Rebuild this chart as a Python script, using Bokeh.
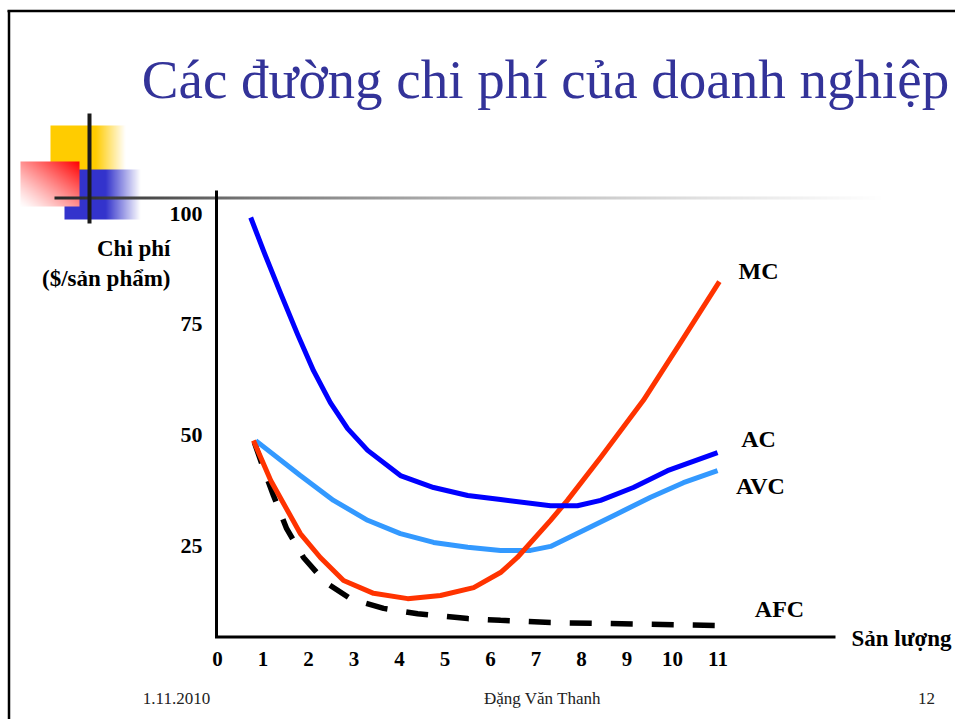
import numpy as np
from bokeh.plotting import figure
from bokeh.models import Range1d
from bokeh.core.properties import value
from bokeh.embed import file_html
from bokeh.resources import INLINE

# ---------------- data ----------------
ac_x = [0.73, 1.01, 1.39, 1.76, 2.11, 2.48, 2.86, 3.30, 4.02, 4.75, 5.50, 6.22, 7.32, 7.91, 8.42, 9.14, 9.89, 10.99]
ac_y = [99.1, 91.6, 81.9, 72.7, 64.5, 57.3, 51.4, 46.5, 40.8, 38.1, 36.3, 35.4, 34.0, 34.0, 35.2, 38.1, 41.9, 46.0]

avc_x = [0.84, 1.82, 2.55, 3.30, 4.02, 4.75, 5.50, 6.22, 6.88, 7.32, 8.04, 8.79, 9.52, 10.24, 10.99]
avc_y = [48.7, 40.8, 35.2, 30.7, 27.7, 25.7, 24.6, 23.9, 23.9, 24.8, 28.4, 32.2, 35.9, 39.2, 41.9]

mc_x = [0.79, 1.17, 1.82, 2.26, 2.77, 3.43, 4.18, 4.90, 5.63, 6.22, 6.59, 7.32, 7.69, 8.42, 9.36, 10.18, 11.03]
mc_y = [48.7, 39.7, 27.7, 22.3, 17.1, 14.2, 13.0, 13.7, 15.5, 18.9, 22.3, 30.7, 35.2, 44.9, 57.8, 70.9, 84.6]

afc_x = [0.81, 1.01, 1.23, 1.52, 1.89, 2.37, 2.92, 3.65, 4.40, 5.50, 6.22, 7.32, 9.52, 11.23]
afc_y = [48.3, 42.4, 36.3, 28.8, 22.3, 16.7, 13.0, 10.8, 9.6, 8.5, 8.1, 7.6, 7.2, 6.9]

x_ticks = list(range(12))
x_tick_labels = [str(t) for t in x_ticks]
y_ticks = [25, 50, 75, 100]
y_tick_labels = ["25", "50", "75", "100"]

title_text = "Các đường chi phí của doanh nghiệp"
y_title_1 = "Chi phí"
y_title_2 = "($/sản phẩm)"
x_title = "Sản lượng"
footer_left = "1.11.2010"
footer_mid = "Đặng Văn Thanh"
footer_right = "12"

# ---------------- layout helpers (page pixel -> data) ----------------
W, H = 955, 719
X0PX, XS = 217.0, 45.5     # page x of value 0, px per unit
Y0PX, YS = 655.7, 4.4267   # page y of value 0, px per unit


def dx(px):
    return (px - X0PX) / XS


def dy(py):
    return (Y0PX - py) / YS


SERIF = value("Liberation Serif")

p = figure(width=W, height=H, x_range=Range1d(dx(0), dx(W)),
           y_range=Range1d(dy(H), dy(0)), output_backend="svg",
           toolbar_location=None, min_border=0, x_axis_type=None,
           y_axis_type=None)
p.grid.visible = False
p.outline_line_color = None
p.background_fill_color = "white"
p.border_fill_color = "white"


def rgba_image(wpx, hpx, fn):
    """fn(fx, fy) -> (r,g,b) arrays, fx left->right 0..1, fy top->bottom 0..1"""
    fx = (np.arange(wpx) + 0.5) / wpx
    fy = (np.arange(hpx) + 0.5) / hpx
    FX, FY = np.meshgrid(fx, fy)
    r, g, b = fn(FX, FY)
    img = np.zeros((hpx, wpx), dtype=np.uint32)
    v = img.view(dtype=np.uint8).reshape((hpx, wpx, 4))
    v[:, :, 0] = np.clip(r, 0, 255)
    v[:, :, 1] = np.clip(g, 0, 255)
    v[:, :, 2] = np.clip(b, 0, 255)
    v[:, :, 3] = 255
    return img[::-1]


def place_image(img_fn, left, top, wpx, hpx):
    img = rgba_image(wpx, hpx, img_fn)
    p.image_rgba(image=[img], x=dx(left), y=dy(top + hpx), dw=wpx / XS, dh=hpx / YS)


def fade(c, solid_frac):
    def fn(FX, FY):
        t = np.clip((FX - solid_frac) / (1 - solid_frac), 0, 1)
        return tuple(ci + (255 - ci) * t for ci in c)
    return fn


# decorative squares
place_image(fade((255, 204, 0), 0.60), 50, 125, 75, 50)
place_image(fade((51, 51, 204), 0.54), 64, 169, 76, 50)


def red_fn(FX, FY):
    t = np.clip((FX + (1 - FY)) / 2.0, 0, 1) ** 1.2
    r = np.full_like(FX, 255.0)
    g = 255 * (1 - t)
    b = 255 * (1 - t)
    return r, g, b


place_image(red_fn, 20, 161, 59, 45)


# gray gradient rule
def gray_fn(FX, FY):
    px = 54 + FX * (W - 54)
    gv = np.interp(px, [54, 150, 250, 450, 700, 880], [40, 75, 120, 175, 225, 255])
    return gv, gv, gv


place_image(gray_fn, 54, 196, W - 54, 3)

# vertical black decorative bar
p.segment(x0=[dx(89)], y0=[dy(113)], x1=[dx(89)], y1=[dy(223)], line_color="#1a1a1a", line_width=4)

# slide border (top / left)
p.segment(x0=[dx(7), dx(8.5)], y0=[dy(10.5), dy(10)], x1=[dx(W + 5), dx(8.5)], y1=[dy(10.5), dy(H + 5)],
          line_color="black", line_width=2.5)

# ---------------- axes ----------------
p.segment(x0=[dx(216)], y0=[dy(190)], x1=[dx(216)], y1=[dy(637.5)], line_color="black", line_width=3)
p.segment(x0=[dx(214.5)], y0=[dy(636.5)], x1=[dx(835)], y1=[dy(636.5)], line_color="black", line_width=3)

p.text(x=x_ticks, y=[dy(658)] * len(x_ticks), text=x_tick_labels, text_font=SERIF,
       text_font_style="bold", text_font_size="21px", text_align="center",
       text_baseline="middle", text_color="black")
p.text(x=[dx(202)] * len(y_ticks), y=y_ticks, text=y_tick_labels, text_font=SERIF,
       text_font_style="bold", text_font_size="22px", text_align="right",
       text_baseline="middle", text_color="black")

p.text(x=[dx(170), dx(170)], y=[dy(248), dy(278)], text=[y_title_1, y_title_2],
       text_font=SERIF, text_font_style="bold", text_font_size="23px",
       text_align="right", text_baseline="middle", text_color="black")
p.text(x=[dx(851)], y=[dy(638)], text=[x_title], text_font=SERIF, text_font_style="bold",
       text_font_size="23px", text_align="left", text_baseline="middle", text_color="black")

# ---------------- curves ----------------
p.line(afc_x, afc_y, line_color="black", line_width=5.5, line_dash="22 19")
p.line(avc_x, avc_y, line_color="#3399FF", line_width=5, line_join="round")
p.line(mc_x, mc_y, line_color="#FF3300", line_width=5, line_join="round")
p.line(ac_x, ac_y, line_color="#0000FF", line_width=5, line_join="round")

curve_names = ["MC", "AC", "AVC", "AFC"]
p.text(x=[dx(758), dx(758), dx(760), dx(779)], y=[dy(270), dy(438), dy(485), dy(608)],
       text=curve_names, text_font=SERIF, text_font_style="bold", text_font_size="24px",
       text_align="center", text_baseline="middle", text_color="black")

# ---------------- title & footer ----------------
p.text(x=[dx(545)], y=[dy(79)], text=[title_text], text_font=SERIF, text_font_size="55px",
       text_align="center", text_baseline="middle", text_color="#333399")
p.text(x=[dx(176), dx(542), dx(926)], y=[dy(698)] * 3, text=[footer_left, footer_mid, footer_right],
       text_font=SERIF, text_font_size="17px", text_align="center", text_baseline="middle",
       text_color="#222222")

open("out.html", "w").write(file_html(p, INLINE))
